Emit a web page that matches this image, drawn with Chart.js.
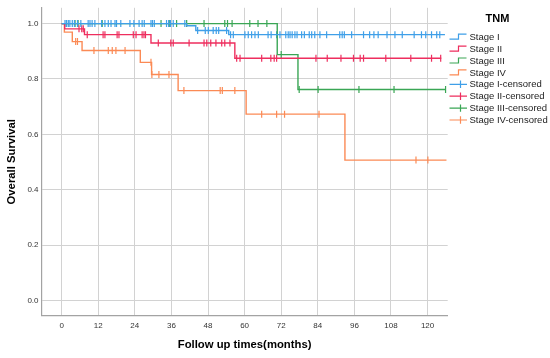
<!DOCTYPE html>
<html>
<head>
<meta charset="utf-8">
<title>Overall Survival by TNM</title>
<script src="https://cdn.jsdelivr.net/npm/chart.js@4.4.1/dist/chart.umd.min.js"></script>
<style>
  html, body { margin: 0; padding: 0; background: #fff; }
  #wrap { width: 550px; height: 358px; position: relative; }
</style>
</head>
<body>
<div id="wrap"><canvas id="km"></canvas></div>
<script>
"use strict";

// Kaplan-Meier steps: (time, survival) at each event
const stage1Times = [0, 41.0, 44.0, 54.8, 125.7];
const stage1Surv  = [1.0, 0.992, 0.975, 0.960, 0.960];
const stage2Times = [0, 1.0, 7.5, 29.3, 56.8, 124.5];
const stage2Surv  = [1.0, 0.981, 0.960, 0.930, 0.875, 0.875];
const stage3Times = [0, 70.7, 77.5, 125.9];
const stage3Surv  = [1.0, 0.888, 0.762, 0.762];
const stage4Times = [0, 0.9, 3.5, 6.7, 25.8, 29.5, 38.2, 60.5, 92.9, 126.2];
const stage4Surv  = [1.0, 0.969, 0.935, 0.903, 0.860, 0.816, 0.758, 0.673, 0.507, 0.507];

// censoring times (months)
const stage1Cens = [1.1, 1.6, 2.2, 2.7, 3.5, 4.2, 5.2, 6.3, 8.7, 9.3, 10.0, 10.9, 13.1, 14.2,
  15.3, 16.2, 17.5, 18.0, 19.4, 22.4, 23.7, 25.4, 26.4, 27.1, 29.3, 29.8, 30.4, 34.4, 35.1,
  35.7, 36.6, 40.4, 44.6, 47.1, 48.1, 49.7, 50.7, 51.5, 54.1, 55.4, 56.3, 60.1, 61.2, 62.3,
  63.4, 64.5, 67.7, 68.7, 70.5, 71.6, 73.5, 74.3, 74.9, 75.6, 76.5, 77.2, 78.7, 79.6, 81.2,
  82.0, 83.0, 84.7, 86.9, 91.2, 92.0, 92.7, 95.1, 99.0, 101.0, 102.4, 103.8, 106.7, 109.3,
  111.7, 115.6, 118.0, 119.4, 121.3, 123.0, 124.0];
const stage2Cens = [5.7, 6.6, 7.1, 8.4, 13.6, 14.2, 18.2, 18.8, 23.5, 24.4, 26.4, 27.0, 27.5,
  31.7, 35.8, 36.6, 41.8, 46.7, 47.6, 48.9, 50.6, 52.5, 53.5, 55.2, 57.4, 58.5, 65.6, 68.6,
  69.7, 70.5, 83.4, 87.1, 91.6, 95.7, 97.9, 99.0, 106.3, 114.5, 121.3, 124.3];
const stage3Cens = [1.6, 4.4, 5.4, 13.3, 32.6, 35.3, 37.7, 41.0, 46.7, 53.5, 54.4, 55.9, 61.7,
  64.4, 67.3, 72.0, 77.9, 84.1, 97.5, 109.0, 125.9];
const stage4Cens = [4.6, 5.2, 10.6, 15.3, 16.6, 17.8, 20.8, 29.3, 29.6, 31.9, 35.2, 40.1, 52.0,
  52.7, 56.8, 65.6, 70.5, 73.1, 84.4, 116.2, 120.1];

const stageNames = ["Stage I", "Stage II", "Stage III", "Stage IV"];
const legendTitle = "TNM";
const xTicks = [0, 12, 24, 36, 48, 60, 72, 84, 96, 108, 120];
const yTicks = [0.0, 0.2, 0.4, 0.6, 0.8, 1.0];

const COLORS = ["#3f9fe8", "#ee2e5e", "#3aa655", "#fb8a55"];
const FONT = "'Liberation Sans', Arial, sans-serif";

const curves = [
  [stage1Times, stage1Surv, stage1Cens],
  [stage2Times, stage2Surv, stage2Cens],
  [stage3Times, stage3Surv, stage3Cens],
  [stage4Times, stage4Surv, stage4Cens],
];

// survival of a step curve at time t
function survAt(times, surv, t) {
  let s = surv[0];
  for (let i = 0; i < times.length; i++) if (times[i] <= t) s = surv[i];
  return s;
}

const datasets = [];
curves.forEach(([times, surv], i) => {
  datasets.push({
    label: stageNames[i], type: "line",
    data: times.map((t, k) => ({ x: t, y: surv[k] })),
    borderColor: COLORS[i], borderWidth: 1.4, stepped: "before",
    pointRadius: 0, fill: false,
  });
});
curves.forEach(([times, surv, cens], i) => {
  datasets.push({
    label: stageNames[i] + "-censored", type: "scatter",
    data: cens.map(t => ({ x: t, y: survAt(times, surv, t) })),
    borderColor: COLORS[i], backgroundColor: COLORS[i],
    pointStyle: "line", rotation: 90, pointRadius: 3.5, borderWidth: 1.2,
    showLine: false,
  });
});

const legendPlugin = {
  id: "tnmLegend",
  afterDraw(chart) {
    const ctx = chart.ctx;
    ctx.save();
    ctx.fillStyle = "#000";
    ctx.font = "bold 11px " + FONT;
    ctx.textAlign = "center";
    ctx.textBaseline = "middle";
    ctx.fillText(legendTitle, 497.5, 19);
    ctx.font = "9.5px " + FONT;
    ctx.textAlign = "left";
    chart.data.datasets.forEach((ds, i) => {
      const y = 36.7 + i * 11.9;
      ctx.strokeStyle = ds.borderColor;
      ctx.lineWidth = 1.2;
      ctx.beginPath();
      if (i < 4) {
        ctx.moveTo(449.5, y + 2.5); ctx.lineTo(458.5, y + 2.5);
        ctx.lineTo(458.5, y - 2.5); ctx.lineTo(466.5, y - 2.5);
      } else {
        ctx.moveTo(449.5, y); ctx.lineTo(467, y);
        ctx.moveTo(460.5, y - 3.7); ctx.lineTo(460.5, y + 3.7);
      }
      ctx.stroke();
      ctx.fillStyle = "#222";
      ctx.fillText(ds.label, 469.5, y + 0.5);
    });
    ctx.restore();
  },
};

new Chart(document.getElementById("km"), {
  type: "line",
  data: { datasets },
  plugins: [legendPlugin],
  options: {
    responsive: true, maintainAspectRatio: false, animation: false,
    devicePixelRatio: 1,
    layout: { padding: { top: 7.3, right: 102.3, left: 0, bottom: 0 } },
    plugins: { legend: { display: false }, tooltip: { enabled: false } },
    scales: {
      x: {
        type: "linear", min: -6.6, max: 126.6,
        afterBuildTicks: (s) => { s.ticks = xTicks.map(v => ({ value: v })); },
        afterFit: (s) => { s.height = 42.3; },
        grid: { color: "#d2d2d2", lineWidth: 1, drawTicks: false },
        border: { color: "#a3a3a3", width: 1.2 },
        ticks: { font: { family: FONT, size: 8 }, color: "#333", padding: 5 },
        title: { display: true, text: "Follow up times(months)", color: "#000",
          font: { family: FONT, size: 11.3, weight: "bold" }, padding: { top: 0, bottom: 6 } },
      },
      y: {
        type: "linear", min: -0.055, max: 1.057,
        afterBuildTicks: (s) => { s.ticks = yTicks.map(v => ({ value: v })); },
        afterFit: (s) => { s.width = 41.5; },
        grid: { color: "#d2d2d2", lineWidth: 1, drawTicks: false },
        border: { color: "#a3a3a3", width: 1.2 },
        ticks: { font: { family: FONT, size: 8 }, color: "#333", padding: 3,
          callback: (v) => Number(v).toFixed(1) },
        title: { display: true, text: "Overall Survival", color: "#000",
          font: { family: FONT, size: 11.3, weight: "bold" }, padding: { top: 4.7, bottom: 0 } },
      },
    },
  },
});
</script>
</body>
</html>
